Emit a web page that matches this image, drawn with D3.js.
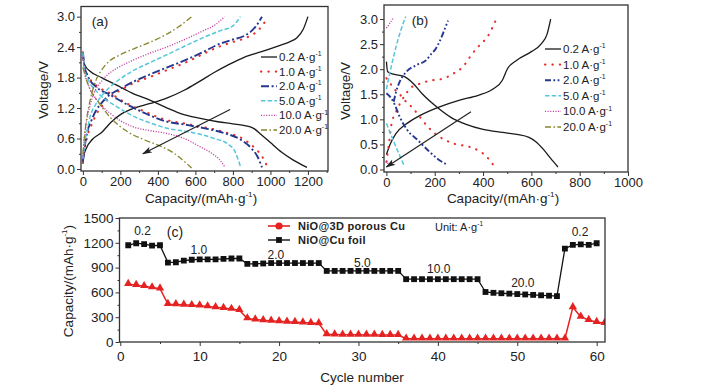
<!DOCTYPE html>
<html>
<head>
<meta charset="utf-8">
<script src="https://cdn.jsdelivr.net/npm/d3@7"></script>
<style>
body { margin: 0; background: #fff; }
svg { font-family: "Liberation Sans", Arial, sans-serif; }
</style>
</head>
<body>
<script>
const w = 705, h = 391;

// current densities shown in (a) and (b)
const rateNames = ["0.2", "1.0", "2.0", "5.0", "10.0", "20.0"];
const rateColors = ["#1a1a1a", "#e8302c", "#24388f", "#55c6dc", "#c23c9e", "#86852a"];
const rateDashA = [null, "0.4,7", "8,2.6,2,2.6", "4.5,2.2", "1.1,1.5", "6,2.4,1.6,2.4"];
const rateDashB = [null, "0.4,7", "6,2.4,1.8,2.4,1.8,2.4", "4.5,2.2", "1.1,1.5", "6,2.4,1.6,2.4"];
const rateWidth = [1.3, 2.1, 1.9, 1.5, 1.3, 1.3];

// (a) charge / discharge curves, [capacity, voltage]
const aCharge = [
  [[0,0.1],[5,0.25],[20,0.42],[50,0.58],[100,0.72],[150,0.92],[200,1.07],[260,1.18],[360,1.29],[450,1.4],[540,1.55],[620,1.72],[700,1.9],[775,2.05],[860,2.2],[953,2.31],[1040,2.42],[1100,2.5],[1140,2.58],[1175,2.75],[1200,3.0]],
  [[0,0.15],[10,0.4],[28,0.7],[50,0.9],[75,1.1],[110,1.28],[145,1.42],[200,1.55],[270,1.69],[350,1.8],[450,1.95],[550,2.1],[650,2.28],[720,2.4],[800,2.5],[880,2.6],[940,2.75],[980,2.95]],
  [[0,0.15],[10,0.45],[25,0.75],[45,0.95],[70,1.15],[100,1.3],[140,1.45],[200,1.58],[270,1.72],[350,1.85],[450,2.0],[550,2.15],[650,2.32],[720,2.45],[800,2.55],[860,2.62],[920,2.8],[955,3.0]],
  [[0,0.2],[10,0.5],[25,0.8],[40,1.05],[65,1.25],[95,1.42],[140,1.6],[190,1.75],[260,1.92],[360,2.1],[460,2.27],[560,2.45],[650,2.6],[730,2.72],[800,2.82],[840,3.0]],
  [[0,0.2],[8,0.6],[20,0.95],[37,1.23],[60,1.5],[91,1.69],[130,1.85],[180,1.98],[260,2.13],[357,2.28],[460,2.42],[560,2.58],[640,2.72],[710,2.85],[755,3.0]],
  [[0,0.3],[10,0.7],[25,1.1],[45,1.45],[70,1.75],[100,1.95],[140,2.12],[200,2.25],[280,2.38],[360,2.5],[440,2.64],[510,2.8],[580,3.0]]
];
const aDischarge = [
  [[0,2.2],[10,2.05],[40,1.92],[100,1.8],[180,1.65],[260,1.5],[360,1.35],[450,1.2],[530,1.08],[620,1.0],[720,0.93],[800,0.89],[870,0.85],[910,0.8],[950,0.68],[1000,0.52],[1060,0.33],[1120,0.18],[1195,0.03]],
  [[0,2.3],[10,2.0],[30,1.82],[70,1.65],[150,1.48],[230,1.3],[330,1.13],[440,0.97],[550,0.89],[650,0.82],[760,0.72],[860,0.58],[920,0.4],[960,0.22],[985,0.03]],
  [[0,2.3],[10,2.0],[30,1.8],[70,1.62],[150,1.45],[230,1.28],[330,1.1],[440,0.94],[550,0.87],[650,0.8],[760,0.7],[840,0.58],[900,0.4],[930,0.25],[955,0.03]],
  [[0,2.3],[10,1.95],[30,1.75],[80,1.5],[180,1.23],[280,1.02],[380,0.88],[450,0.8],[550,0.74],[630,0.68],[700,0.6],[770,0.5],[810,0.35],[840,0.05]],
  [[0,2.2],[10,1.9],[30,1.65],[70,1.38],[144,1.1],[200,0.95],[268,0.83],[350,0.76],[446,0.7],[540,0.6],[624,0.44],[690,0.3],[730,0.18],[755,0.05]],
  [[0,2.0],[15,1.8],[40,1.55],[80,1.33],[150,1.0],[240,0.73],[330,0.57],[420,0.44],[490,0.3],[540,0.15],[580,0.02]]
];
const aArrow = [[785, 1.17], [320, 0.3]];

// (b) charge / discharge curves
const bCharge = [
  [[0,0.3],[15,0.5],[40,0.72],[80,0.9],[140,1.08],[220,1.25],[300,1.38],[380,1.48],[440,1.6],[480,1.78],[500,2.0],[540,2.18],[600,2.35],[640,2.5],[665,2.7],[680,3.0]],
  [[0,0.15],[10,0.5],[20,0.88],[40,1.15],[60,1.35],[80,1.5],[96,1.61],[138,1.71],[180,1.77],[234,1.81],[276,1.91],[317,2.05],[351,2.28],[386,2.48],[420,2.66],[455,3.0]],
  [[30,1.35],[40,1.55],[55,1.75],[83,1.95],[124,2.08],[165,2.18],[185,2.3],[200,2.38],[220,2.55],[234,2.71],[255,2.97]],
  [[0,1.6],[20,2.05],[40,2.45],[60,2.78],[80,3.05]],
  [[0,2.82],[12,2.9],[28,3.02]],
  []
];
const bDischarge = [
  [[0,2.15],[5,1.95],[30,1.9],[70,1.86],[110,1.72],[150,1.5],[200,1.28],[270,1.03],[330,0.9],[400,0.8],[480,0.74],[540,0.7],[590,0.64],[620,0.55],[650,0.4],[680,0.22],[710,0.05]],
  [[0,1.82],[15,1.72],[34,1.6],[55,1.5],[76,1.38],[110,1.22],[138,1.05],[172,0.85],[200,0.72],[234,0.61],[276,0.52],[345,0.45],[380,0.38],[410,0.28],[441,0.1]],
  [[0,1.52],[20,1.42],[34,1.3],[55,1.05],[83,0.81],[131,0.58],[179,0.35],[215,0.2],[250,0.1]],
  [[0,0.92],[25,0.62],[50,0.33],[75,0.06]],
  [[0,0.18],[10,0.08]],
  []
];
const bArrow = [[350, 1.15], [0, 0.05]];

// (c) rate capability, capacity per cycle
const foilCap = [1170,1195,1185,1165,1170, 960,965,985,995,1000,1000,1000,1005,1010,1010,
  945,945,950,955,955,955,955,955,955,955, 860,860,860,860,860,860,860,860,860,860,
  760,760,760,760,760,760,760,760,760,760, 605,595,590,585,580,575,570,565,560,555,
  1130,1175,1180,1175,1195];
const porousCap = [700,688,675,660,645, 458,455,450,445,440,430,420,410,400,385,
  285,272,262,255,250,245,240,235,230,225, 92,90,88,88,87,86,86,85,85,84,
  40,40,40,40,40,40,40,40,40,40, 40,40,40,40,40,40,40,40,40,40,
  40,420,305,265,240,230];
const stepNames = ["0.2", "1.0", "2.0", "5.0", "10.0", "20.0", "0.2"];
const stepCycle = [2.8, 9.9, 19.6, 30.5, 40.1, 50.7, 57.9];
const stepCap = [1340, 1121, 1060, 962, 889, 718, 1329];

// ticks
const aXTicks = [0,200,400,600,800,1000,1200], aXMinor = [100,300,500,700,900,1100,1300];
const aYTicks = [0,0.6,1.2,1.8,2.4,3.0], aYMinor = [0.3,0.9,1.5,2.1,2.7];
const bXTicks = [0,200,400,600,800,1000], bXMinor = [100,300,500,700,900];
const bYTicks = [0,0.5,1.0,1.5,2.0,2.5,3.0], bYMinor = [0.25,0.75,1.25,1.75,2.25,2.75];
const cXTicks = [0,10,20,30,40,50,60], cXMinor = [5,15,25,35,45,55];
const cYTicks = [0,300,600,900,1200,1500], cYMinor = [150,450,750,1050,1350];

const svg = d3.select("body").append("svg").attr("width", w).attr("height", h);

const defs = svg.append("defs");
defs.append("marker")
  .attr("id", "head").attr("markerUnits", "userSpaceOnUse")
  .attr("viewBox", "0 -4 10 8").attr("refX", 9).attr("refY", 0)
  .attr("markerWidth", 10).attr("markerHeight", 8).attr("orient", "auto")
  .append("path").attr("d", "M0,-3.2L10,0L0,3.2L2.5,0Z").attr("fill", "#222");

// superscript helper: base text, small raised part, tail
const supText = (sel, base, sup, tail, fs) => {
  sel.append("tspan").text(base);
  sel.append("tspan").attr("dy", -fs * 0.42).attr("font-size", fs * 0.6).text(sup);
  if (tail) sel.append("tspan").attr("dy", fs * 0.42).text(tail);
};

const drawAxes = (x, y, box, opt) => {
  const g = svg.append("g");
  const bottom = g.append("g").attr("transform", `translate(0,${box[3]})`);
  bottom.call(d3.axisBottom(x).tickValues(opt.xTicks).tickFormat(opt.fx)
    .tickSize(4).tickSizeOuter(0).tickPadding(opt.xPad));
  bottom.append("g").call(d3.axisBottom(x).tickValues(opt.xMinor).tickFormat("").tickSize(2).tickSizeOuter(0));
  const left = g.append("g").attr("transform", `translate(${box[0]},0)`);
  left.call(d3.axisLeft(y).tickValues(opt.yTicks).tickFormat(opt.fy)
    .tickSize(4).tickSizeOuter(0).tickPadding(2));
  left.append("g").call(d3.axisLeft(y).tickValues(opt.yMinor).tickFormat("").tickSize(2).tickSizeOuter(0));
  g.selectAll(".domain").remove();
  g.selectAll(".tick line").attr("stroke", "#333");
  g.selectAll(".tick text").attr("font-size", opt.fs).attr("fill", "#222")
    .attr("font-family", "Liberation Sans, Arial, sans-serif");
  g.append("rect")
    .attr("x", box[0]).attr("y", box[1])
    .attr("width", box[2] - box[0]).attr("height", box[3] - box[1])
    .attr("fill", "none").attr("stroke", "#333").attr("stroke-width", 1.3);
};

const drawCurves = (x, y, charge, discharge, dash, arrow) => {
  const line = d3.line().x(d => x(d[0])).y(d => y(d[1])).curve(d3.curveMonotoneX);
  const g = svg.append("g");
  rateNames.forEach((r, i) => {
    [charge[i], discharge[i]].forEach(pts => {
      if (!pts.length) return;
      g.append("path").datum(pts)
        .attr("d", line)
        .attr("fill", "none")
        .attr("stroke", rateColors[i])
        .attr("stroke-width", rateWidth[i])
        .attr("stroke-dasharray", dash[i])
        .attr("stroke-linecap", i === 1 ? "round" : "butt");
    });
  });
  g.append("line")
    .attr("x1", x(arrow[0][0])).attr("y1", y(arrow[0][1]))
    .attr("x2", x(arrow[1][0])).attr("y2", y(arrow[1][1]))
    .attr("stroke", "#222").attr("stroke-width", 1.2)
    .attr("marker-end", "url(#head)");
};

const drawRateLegend = (x0, y0, step, dash) => {
  const g = svg.append("g");
  rateNames.forEach((r, i) => {
    const yy = y0 + i * step;
    g.append("line")
      .attr("x1", x0).attr("x2", x0 + 16).attr("y1", yy).attr("y2", yy)
      .attr("stroke", rateColors[i]).attr("stroke-width", rateWidth[i])
      .attr("stroke-dasharray", dash[i])
      .attr("stroke-linecap", i === 1 ? "round" : "butt");
    const t = g.append("text")
      .attr("x", x0 + 18).attr("y", yy + 4)
      .attr("font-size", 11.5).attr("fill", "#222");
    supText(t, `${r} A\u00b7g`, "-1", null, 11.5);
  });
};

// ---------- panel (a)
const boxA = [81, 6.5, 328, 171];
const xA = d3.scaleLinear().domain([-10, 1307]).range([boxA[0], boxA[2]]);
const yA = d3.scaleLinear().domain([-0.04, 3.2]).range([boxA[3], boxA[1]]);
drawCurves(xA, yA, aCharge, aDischarge, rateDashA, aArrow);
drawAxes(xA, yA, boxA, { xTicks: aXTicks, xMinor: aXMinor, yTicks: aYTicks, yMinor: aYMinor,
  fx: d3.format("d"), fy: d3.format(".1f"), fs: 13, xPad: 2 });
drawRateLegend(261, 57, 14.6, rateDashA);

// ---------- panel (b)
const boxB = [384, 5, 628, 172];
const xB = d3.scaleLinear().domain([-10, 1000]).range([boxB[0], boxB[2]]);
const yB = d3.scaleLinear().domain([-0.05, 3.28]).range([boxB[3], boxB[1]]);
drawCurves(xB, yB, bCharge, bDischarge, rateDashB, bArrow);
drawAxes(xB, yB, boxB, { xTicks: bXTicks, xMinor: bXMinor, yTicks: bYTicks, yMinor: bYMinor,
  fx: d3.format("d"), fy: d3.format(".1f"), fs: 13, xPad: 2 });
drawRateLegend(545, 49, 15.6, rateDashB);

// panel letters and titles for (a), (b)
svg.append("text").attr("x", 100).attr("y", 26).attr("text-anchor", "middle")
  .attr("font-size", 13.5).attr("fill", "#222").text("(a)");
svg.append("text").attr("x", 420).attr("y", 25).attr("text-anchor", "middle")
  .attr("font-size", 13.5).attr("fill", "#222").text("(b)");

[[43, 90], [345, 91]].forEach(p => {
  svg.append("text")
    .attr("transform", `translate(${p[0]},${p[1]}) rotate(-90)`)
    .attr("text-anchor", "middle").attr("dy", "0.35em")
    .attr("font-size", 13.5).attr("fill", "#222").text("Voltage/V");
});
[[201, 203], [503, 203]].forEach(p => {
  const t = svg.append("text").attr("x", p[0]).attr("y", p[1])
    .attr("text-anchor", "middle").attr("font-size", 13.5).attr("fill", "#222");
  supText(t, "Capacity/(mAh\u00b7g", "-1", ")", 13.5);
});

// ---------- panel (c)
const boxC = [119.5, 218, 605, 342];
const xC = d3.scaleLinear().domain([-0.1, 61.05]).range([boxC[0], boxC[2]]);
const yC = d3.scaleLinear().domain([0, 1500]).range([boxC[3], boxC[1]]);

defs.append("clipPath").attr("id", "clipC").append("rect")
  .attr("x", boxC[0]).attr("y", boxC[1] - 10)
  .attr("width", boxC[2] - boxC[0]).attr("height", boxC[3] - boxC[1] + 10);

const gC = svg.append("g").attr("clip-path", "url(#clipC)");
const lineC = d3.line().x((d, i) => xC(i + 1)).y(d => yC(d));

gC.append("path").datum(foilCap).attr("d", lineC)
  .attr("fill", "none").attr("stroke", "#111").attr("stroke-width", 1.3);
gC.selectAll(".sq").data(foilCap).enter().append("path")
  .attr("class", "sq")
  .attr("transform", (d, i) => `translate(${xC(i + 1)},${yC(d)})`)
  .attr("d", d3.symbol(d3.symbolSquare, 34))
  .attr("fill", "#111");

gC.append("path").datum(porousCap).attr("d", lineC)
  .attr("fill", "none").attr("stroke", "#e52222").attr("stroke-width", 1.5);
gC.selectAll(".tri").data(porousCap).enter().append("path")
  .attr("class", "tri")
  .attr("transform", (d, i) => `translate(${xC(i + 1)},${yC(d) - 0.5})`)
  .attr("d", d3.symbol(d3.symbolTriangle, 30))
  .attr("fill", "#e52222");

drawAxes(xC, yC, boxC, { xTicks: cXTicks, xMinor: cXMinor, yTicks: cYTicks, yMinor: cYMinor,
  fx: d3.format("d"), fy: d3.format("d"), fs: 13.5, xPad: 5 });

svg.selectAll(".step").data(stepNames).enter().append("text")
  .attr("x", (d, i) => xC(stepCycle[i])).attr("y", (d, i) => yC(stepCap[i]))
  .attr("dy", "0.35em").attr("text-anchor", "middle")
  .attr("font-size", 12).attr("fill", "#222")
  .text(d => d);

svg.append("text").attr("x", 175).attr("y", 237).attr("text-anchor", "middle")
  .attr("font-size", 14).attr("fill", "#222").text("(c)");

// legend (c)
const legC = svg.append("g");
legC.append("line").attr("x1", 268).attr("x2", 290).attr("y1", 226).attr("y2", 226)
  .attr("stroke", "#e52222").attr("stroke-width", 1.6);
legC.append("circle").attr("cx", 279).attr("cy", 226).attr("r", 3.6).attr("fill", "#e52222");
legC.append("text").attr("x", 298).attr("y", 230).attr("font-size", 11).attr("font-weight", "bold")
  .attr("letter-spacing", 0.3).attr("fill", "#222").text("NiO@3D porous Cu");
legC.append("line").attr("x1", 268).attr("x2", 290).attr("y1", 240).attr("y2", 240)
  .attr("stroke", "#111").attr("stroke-width", 1.4);
legC.append("path").attr("transform", "translate(279,240)")
  .attr("d", d3.symbol(d3.symbolSquare, 34)).attr("fill", "#111");
legC.append("text").attr("x", 298).attr("y", 244).attr("font-size", 11).attr("font-weight", "bold")
  .attr("letter-spacing", 0.3).attr("fill", "#222").text("NiO@Cu foil");

const unit = svg.append("text").attr("x", 435).attr("y", 231)
  .attr("font-size", 11).attr("fill", "#222");
supText(unit, "Unit: A\u00b7g", "-1", null, 11);

svg.append("text")
  .attr("transform", "translate(68,281) rotate(-90)")
  .attr("text-anchor", "middle").attr("dy", "0.35em")
  .attr("font-size", 13.5).attr("fill", "#222")
  .call(t => supText(t, "Capacity/(mAh\u00b7g", "-1", ")", 13.5));

svg.append("text").attr("x", 362).attr("y", 382).attr("text-anchor", "middle")
  .attr("font-size", 13.5).attr("fill", "#222").text("Cycle number");
</script>
</body>
</html>
